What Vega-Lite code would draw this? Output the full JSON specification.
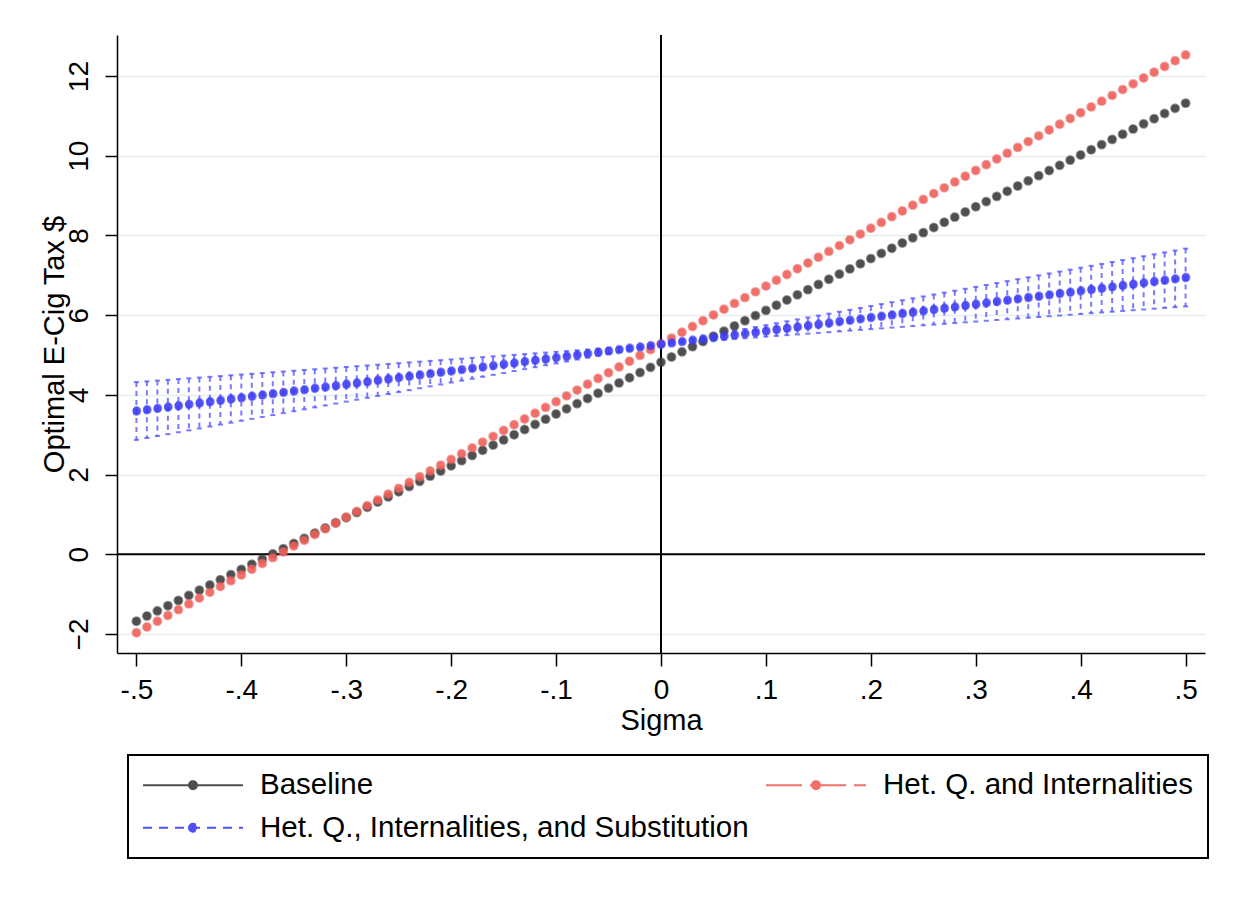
{
  "$schema": "https://vega.github.io/schema/vega-lite/v6.json",
  "width": 1088,
  "height": 618,
  "autosize": {"type": "none"},
  "padding": {"left": 117, "top": 35, "right": 30, "bottom": 246},
  "background": "white",
  "config": {
    "font": "Liberation Sans",
    "view": {"stroke": null},
    "axis": {
      "domainColor": "black",
      "domainWidth": 1.5,
      "tickColor": "black",
      "tickWidth": 1.5,
      "labelColor": "black",
      "titleColor": "black",
      "labelFontSize": 28,
      "titleFontSize": 29,
      "titleFontWeight": "normal"
    },
    "legend": {"strokeWidth": 2}
  },
  "data": {
    "values": [
      {"s": -0.5, "b": -1.68, "h": -1.97, "q": 3.595, "lo": 2.87, "hi": 4.32},
      {"s": -0.49, "b": -1.55, "h": -1.825, "q": 3.629, "lo": 2.918, "hi": 4.339},
      {"s": -0.48, "b": -1.42, "h": -1.68, "q": 3.662, "lo": 2.966, "hi": 4.358},
      {"s": -0.47, "b": -1.29, "h": -1.535, "q": 3.696, "lo": 3.014, "hi": 4.377},
      {"s": -0.46, "b": -1.16, "h": -1.39, "q": 3.729, "lo": 3.062, "hi": 4.396},
      {"s": -0.45, "b": -1.03, "h": -1.245, "q": 3.763, "lo": 3.11, "hi": 4.415},
      {"s": -0.44, "b": -0.9, "h": -1.1, "q": 3.796, "lo": 3.158, "hi": 4.434},
      {"s": -0.43, "b": -0.77, "h": -0.955, "q": 3.83, "lo": 3.206, "hi": 4.453},
      {"s": -0.42, "b": -0.64, "h": -0.81, "q": 3.863, "lo": 3.254, "hi": 4.472},
      {"s": -0.41, "b": -0.51, "h": -0.665, "q": 3.897, "lo": 3.302, "hi": 4.491},
      {"s": -0.4, "b": -0.38, "h": -0.52, "q": 3.93, "lo": 3.35, "hi": 4.51},
      {"s": -0.39, "b": -0.25, "h": -0.375, "q": 3.964, "lo": 3.398, "hi": 4.529},
      {"s": -0.38, "b": -0.12, "h": -0.23, "q": 3.997, "lo": 3.446, "hi": 4.548},
      {"s": -0.37, "b": 0.01, "h": -0.085, "q": 4.031, "lo": 3.494, "hi": 4.567},
      {"s": -0.36, "b": 0.14, "h": 0.06, "q": 4.064, "lo": 3.542, "hi": 4.586},
      {"s": -0.35, "b": 0.27, "h": 0.205, "q": 4.098, "lo": 3.59, "hi": 4.605},
      {"s": -0.34, "b": 0.4, "h": 0.35, "q": 4.131, "lo": 3.638, "hi": 4.624},
      {"s": -0.33, "b": 0.53, "h": 0.495, "q": 4.165, "lo": 3.686, "hi": 4.643},
      {"s": -0.32, "b": 0.66, "h": 0.64, "q": 4.198, "lo": 3.734, "hi": 4.662},
      {"s": -0.31, "b": 0.79, "h": 0.785, "q": 4.232, "lo": 3.782, "hi": 4.681},
      {"s": -0.3, "b": 0.92, "h": 0.93, "q": 4.265, "lo": 3.83, "hi": 4.7},
      {"s": -0.29, "b": 1.05, "h": 1.075, "q": 4.299, "lo": 3.878, "hi": 4.719},
      {"s": -0.28, "b": 1.18, "h": 1.22, "q": 4.332, "lo": 3.926, "hi": 4.738},
      {"s": -0.27, "b": 1.31, "h": 1.365, "q": 4.366, "lo": 3.974, "hi": 4.757},
      {"s": -0.26, "b": 1.44, "h": 1.51, "q": 4.399, "lo": 4.022, "hi": 4.776},
      {"s": -0.25, "b": 1.57, "h": 1.655, "q": 4.433, "lo": 4.07, "hi": 4.795},
      {"s": -0.24, "b": 1.7, "h": 1.8, "q": 4.466, "lo": 4.118, "hi": 4.814},
      {"s": -0.23, "b": 1.83, "h": 1.945, "q": 4.5, "lo": 4.166, "hi": 4.833},
      {"s": -0.22, "b": 1.96, "h": 2.09, "q": 4.533, "lo": 4.214, "hi": 4.852},
      {"s": -0.21, "b": 2.09, "h": 2.235, "q": 4.567, "lo": 4.262, "hi": 4.871},
      {"s": -0.2, "b": 2.22, "h": 2.38, "q": 4.6, "lo": 4.31, "hi": 4.89},
      {"s": -0.19, "b": 2.35, "h": 2.525, "q": 4.634, "lo": 4.358, "hi": 4.909},
      {"s": -0.18, "b": 2.48, "h": 2.67, "q": 4.667, "lo": 4.406, "hi": 4.928},
      {"s": -0.17, "b": 2.61, "h": 2.815, "q": 4.701, "lo": 4.454, "hi": 4.947},
      {"s": -0.16, "b": 2.74, "h": 2.96, "q": 4.734, "lo": 4.502, "hi": 4.966},
      {"s": -0.15, "b": 2.87, "h": 3.105, "q": 4.768, "lo": 4.55, "hi": 4.985},
      {"s": -0.14, "b": 3.0, "h": 3.25, "q": 4.801, "lo": 4.598, "hi": 5.004},
      {"s": -0.13, "b": 3.13, "h": 3.395, "q": 4.835, "lo": 4.646, "hi": 5.023},
      {"s": -0.12, "b": 3.26, "h": 3.54, "q": 4.868, "lo": 4.694, "hi": 5.042},
      {"s": -0.11, "b": 3.39, "h": 3.685, "q": 4.902, "lo": 4.742, "hi": 5.061},
      {"s": -0.1, "b": 3.52, "h": 3.83, "q": 4.935, "lo": 4.79, "hi": 5.08},
      {"s": -0.09, "b": 3.65, "h": 3.975, "q": 4.969, "lo": 4.838, "hi": 5.099},
      {"s": -0.08, "b": 3.78, "h": 4.12, "q": 5.002, "lo": 4.886, "hi": 5.118},
      {"s": -0.07, "b": 3.91, "h": 4.265, "q": 5.036, "lo": 4.934, "hi": 5.137},
      {"s": -0.06, "b": 4.04, "h": 4.41, "q": 5.069, "lo": 4.982, "hi": 5.156},
      {"s": -0.05, "b": 4.17, "h": 4.555, "q": 5.103, "lo": 5.03, "hi": 5.175},
      {"s": -0.04, "b": 4.3, "h": 4.7, "q": 5.136, "lo": 5.078, "hi": 5.194},
      {"s": -0.03, "b": 4.43, "h": 4.845, "q": 5.17, "lo": 5.126, "hi": 5.213},
      {"s": -0.02, "b": 4.56, "h": 4.99, "q": 5.203, "lo": 5.174, "hi": 5.232},
      {"s": -0.01, "b": 4.69, "h": 5.135, "q": 5.237, "lo": 5.222, "hi": 5.251},
      {"s": 0.0, "b": 4.82, "h": 5.28, "q": 5.27, "lo": 5.27, "hi": 5.27},
      {"s": 0.01, "b": 4.95, "h": 5.425, "q": 5.304, "lo": 5.289, "hi": 5.318},
      {"s": 0.02, "b": 5.08, "h": 5.57, "q": 5.337, "lo": 5.308, "hi": 5.366},
      {"s": 0.03, "b": 5.21, "h": 5.715, "q": 5.371, "lo": 5.327, "hi": 5.414},
      {"s": 0.04, "b": 5.34, "h": 5.86, "q": 5.404, "lo": 5.346, "hi": 5.462},
      {"s": 0.05, "b": 5.47, "h": 6.005, "q": 5.438, "lo": 5.365, "hi": 5.51},
      {"s": 0.06, "b": 5.6, "h": 6.15, "q": 5.471, "lo": 5.384, "hi": 5.558},
      {"s": 0.07, "b": 5.73, "h": 6.295, "q": 5.505, "lo": 5.403, "hi": 5.606},
      {"s": 0.08, "b": 5.86, "h": 6.44, "q": 5.538, "lo": 5.422, "hi": 5.654},
      {"s": 0.09, "b": 5.99, "h": 6.585, "q": 5.572, "lo": 5.441, "hi": 5.702},
      {"s": 0.1, "b": 6.12, "h": 6.73, "q": 5.605, "lo": 5.46, "hi": 5.75},
      {"s": 0.11, "b": 6.25, "h": 6.875, "q": 5.639, "lo": 5.479, "hi": 5.798},
      {"s": 0.12, "b": 6.38, "h": 7.02, "q": 5.672, "lo": 5.498, "hi": 5.846},
      {"s": 0.13, "b": 6.51, "h": 7.165, "q": 5.706, "lo": 5.517, "hi": 5.894},
      {"s": 0.14, "b": 6.64, "h": 7.31, "q": 5.739, "lo": 5.536, "hi": 5.942},
      {"s": 0.15, "b": 6.77, "h": 7.455, "q": 5.773, "lo": 5.555, "hi": 5.99},
      {"s": 0.16, "b": 6.9, "h": 7.6, "q": 5.806, "lo": 5.574, "hi": 6.038},
      {"s": 0.17, "b": 7.03, "h": 7.745, "q": 5.84, "lo": 5.593, "hi": 6.086},
      {"s": 0.18, "b": 7.16, "h": 7.89, "q": 5.873, "lo": 5.612, "hi": 6.134},
      {"s": 0.19, "b": 7.29, "h": 8.035, "q": 5.907, "lo": 5.631, "hi": 6.182},
      {"s": 0.2, "b": 7.42, "h": 8.18, "q": 5.94, "lo": 5.65, "hi": 6.23},
      {"s": 0.21, "b": 7.55, "h": 8.325, "q": 5.974, "lo": 5.669, "hi": 6.278},
      {"s": 0.22, "b": 7.68, "h": 8.47, "q": 6.007, "lo": 5.688, "hi": 6.326},
      {"s": 0.23, "b": 7.81, "h": 8.615, "q": 6.041, "lo": 5.707, "hi": 6.374},
      {"s": 0.24, "b": 7.94, "h": 8.76, "q": 6.074, "lo": 5.726, "hi": 6.422},
      {"s": 0.25, "b": 8.07, "h": 8.905, "q": 6.108, "lo": 5.745, "hi": 6.47},
      {"s": 0.26, "b": 8.2, "h": 9.05, "q": 6.141, "lo": 5.764, "hi": 6.518},
      {"s": 0.27, "b": 8.33, "h": 9.195, "q": 6.175, "lo": 5.783, "hi": 6.566},
      {"s": 0.28, "b": 8.46, "h": 9.34, "q": 6.208, "lo": 5.802, "hi": 6.614},
      {"s": 0.29, "b": 8.59, "h": 9.485, "q": 6.242, "lo": 5.821, "hi": 6.662},
      {"s": 0.3, "b": 8.72, "h": 9.63, "q": 6.275, "lo": 5.84, "hi": 6.71},
      {"s": 0.31, "b": 8.85, "h": 9.775, "q": 6.309, "lo": 5.859, "hi": 6.758},
      {"s": 0.32, "b": 8.98, "h": 9.92, "q": 6.342, "lo": 5.878, "hi": 6.806},
      {"s": 0.33, "b": 9.11, "h": 10.065, "q": 6.376, "lo": 5.897, "hi": 6.854},
      {"s": 0.34, "b": 9.24, "h": 10.21, "q": 6.409, "lo": 5.916, "hi": 6.902},
      {"s": 0.35, "b": 9.37, "h": 10.355, "q": 6.443, "lo": 5.935, "hi": 6.95},
      {"s": 0.36, "b": 9.5, "h": 10.5, "q": 6.476, "lo": 5.954, "hi": 6.998},
      {"s": 0.37, "b": 9.63, "h": 10.645, "q": 6.51, "lo": 5.973, "hi": 7.046},
      {"s": 0.38, "b": 9.76, "h": 10.79, "q": 6.543, "lo": 5.992, "hi": 7.094},
      {"s": 0.39, "b": 9.89, "h": 10.935, "q": 6.577, "lo": 6.011, "hi": 7.142},
      {"s": 0.4, "b": 10.02, "h": 11.08, "q": 6.61, "lo": 6.03, "hi": 7.19},
      {"s": 0.41, "b": 10.15, "h": 11.225, "q": 6.644, "lo": 6.049, "hi": 7.238},
      {"s": 0.42, "b": 10.28, "h": 11.37, "q": 6.677, "lo": 6.068, "hi": 7.286},
      {"s": 0.43, "b": 10.41, "h": 11.515, "q": 6.711, "lo": 6.087, "hi": 7.334},
      {"s": 0.44, "b": 10.54, "h": 11.66, "q": 6.744, "lo": 6.106, "hi": 7.382},
      {"s": 0.45, "b": 10.67, "h": 11.805, "q": 6.778, "lo": 6.125, "hi": 7.43},
      {"s": 0.46, "b": 10.8, "h": 11.95, "q": 6.811, "lo": 6.144, "hi": 7.478},
      {"s": 0.47, "b": 10.93, "h": 12.095, "q": 6.845, "lo": 6.163, "hi": 7.526},
      {"s": 0.48, "b": 11.06, "h": 12.24, "q": 6.878, "lo": 6.182, "hi": 7.574},
      {"s": 0.49, "b": 11.19, "h": 12.385, "q": 6.912, "lo": 6.201, "hi": 7.622},
      {"s": 0.5, "b": 11.32, "h": 12.53, "q": 6.945, "lo": 6.22, "hi": 7.67}
    ]
  },
  "layer": [
    {
      "data": {"values": [{"s": 0}]},
      "mark": {"type": "rule", "color": "black", "strokeWidth": 2},
      "encoding": {
        "x": {"field": "s", "type": "quantitative", "title": "Sigma", "scale": {"domain": [-0.5185, 0.5185], "nice": false, "zero": false}}
      }
    },
    {
      "data": {"values": [{"val": 0}]},
      "mark": {"type": "rule", "color": "black", "strokeWidth": 2},
      "encoding": {
        "y": {"field": "val", "type": "quantitative", "title": "Optimal E-Cig Tax $", "scale": {"domain": [-2.477, 13.03], "nice": false, "zero": false}}
      }
    },
    {
      "mark": {"type": "rule", "color": "#4d4dff", "opacity": 0.75, "strokeWidth": 2, "strokeDash": [5, 4]},
      "encoding": {
        "x": {"field": "s", "type": "quantitative", "title": "Sigma"},
        "y": {"field": "hi", "type": "quantitative", "title": "Optimal E-Cig Tax $"},
        "y2": {"field": "lo"}
      }
    },
    {
      "mark": {"type": "tick", "orient": "horizontal", "color": "#4d4dff", "opacity": 0.75, "size": 5, "thickness": 2},
      "encoding": {
        "x": {"field": "s", "type": "quantitative", "title": "Sigma"},
        "y": {"field": "hi", "type": "quantitative", "title": "Optimal E-Cig Tax $"}
      }
    },
    {
      "mark": {"type": "tick", "orient": "horizontal", "color": "#4d4dff", "opacity": 0.75, "size": 5, "thickness": 2},
      "encoding": {
        "x": {"field": "s", "type": "quantitative", "title": "Sigma"},
        "y": {"field": "lo", "type": "quantitative", "title": "Optimal E-Cig Tax $"}
      }
    },
    {
      "transform": [{"fold": ["b", "h", "q"], "as": ["series", "val"]}],
      "mark": {"type": "circle", "size": 62, "opacity": 0.9, "strokeWidth": 2, "strokeOpacity": 0.6},
      "encoding": {
        "x": {
          "field": "s", "type": "quantitative", "title": "Sigma",
          "scale": {"domain": [-0.5185, 0.5185], "nice": false, "zero": false},
          "axis": {
            "values": [-0.5, -0.4, -0.3, -0.2, -0.1, 0, 0.1, 0.2, 0.3, 0.4, 0.5],
            "labelExpr": "datum.value < -0.001 ? '-.' + round(-datum.value * 10) : (datum.value > 0.001 ? '.' + round(datum.value * 10) : '0')",
            "grid": false,
            "tickSize": 13,
            "labelPadding": 10,
            "labelFontSize": 28,
            "labelFlush": false,
            "labelOverlap": false,
            "titleY": 76,
            "titleBaseline": "alphabetic"
          }
        },
        "y": {
          "field": "val", "type": "quantitative", "title": "Optimal E-Cig Tax $",
          "scale": {"domain": [-2.477, 13.03], "nice": false, "zero": false},
          "axis": {
            "values": [-2, 0, 2, 4, 6, 8, 10, 12],
            "grid": true,
            "gridColor": "#e6eef0",
            "gridWidth": 1.5,
            "tickSize": 12,
            "labelFontSize": 28,
            "labelAngle": 270,
            "labelAlign": "center",
            "labelBaseline": "alphabetic",
            "labelPadding": 18,
            "labelFlush": false,
            "labelOverlap": false,
            "titleAngle": 270,
            "titleX": -54,
            "titleY": 309,
            "titleAlign": "center",
            "titleBaseline": "alphabetic"
          }
        },
        "fill": {
          "field": "series", "type": "nominal",
          "scale": {"domain": ["b", "h", "q"], "range": ["#3c3c3c", "#f0605a", "#3d3df5"]},
          "legend": {
            "title": null,
            "orient": "none",
            "direction": "horizontal",
            "legendX": 11,
            "legendY": 720,
            "columns": 2,
            "columnPadding": 13,
            "rowPadding": 12,
            "padding": 15,
            "strokeColor": "black",
            "labelFontSize": 29.5,
            "labelColor": "black",
            "labelOffset": 87.5,
            "labelLimit": 1000,
            "symbolType": "M-14.75,0H85.25M31.25,0A4,4 0 1,1 39.25,0A4,4 0 1,1 31.25,0Z",
            "symbolSize": 4,
            "symbolStrokeWidth": 2,
            "labelExpr": "datum.value === 'b' ? 'Baseline' : (datum.value === 'h' ? 'Het. Q. and Internalities' : 'Het. Q., Internalities, and Substitution')"
          }
        },
        "stroke": {
          "field": "series", "type": "nominal",
          "scale": {"domain": ["b", "h", "q"], "range": ["#3c3c3c", "#f0605a", "#3d3df5"]},
          "legend": {
            "title": null,
            "orient": "none",
            "direction": "horizontal",
            "legendX": 11,
            "legendY": 720,
            "columns": 2,
            "columnPadding": 13,
            "rowPadding": 12,
            "padding": 15,
            "strokeColor": "black",
            "labelFontSize": 29.5,
            "labelColor": "black",
            "labelOffset": 87.5,
            "labelLimit": 1000,
            "symbolType": "M-14.75,0H85.25M31.25,0A4,4 0 1,1 39.25,0A4,4 0 1,1 31.25,0Z",
            "symbolSize": 4,
            "symbolStrokeWidth": 2,
            "labelExpr": "datum.value === 'b' ? 'Baseline' : (datum.value === 'h' ? 'Het. Q. and Internalities' : 'Het. Q., Internalities, and Substitution')"
          }
        },
        "strokeDash": {
          "field": "series", "type": "nominal",
          "scale": {"domain": ["b", "h", "q"], "range": [[1, 0], [36, 8], [9, 7]]},
          "legend": {
            "title": null,
            "orient": "none",
            "direction": "horizontal",
            "legendX": 11,
            "legendY": 720,
            "columns": 2,
            "columnPadding": 13,
            "rowPadding": 12,
            "padding": 15,
            "strokeColor": "black",
            "labelFontSize": 29.5,
            "labelColor": "black",
            "labelOffset": 87.5,
            "labelLimit": 1000,
            "symbolType": "M-14.75,0H85.25M31.25,0A4,4 0 1,1 39.25,0A4,4 0 1,1 31.25,0Z",
            "symbolSize": 4,
            "symbolStrokeWidth": 2,
            "labelExpr": "datum.value === 'b' ? 'Baseline' : (datum.value === 'h' ? 'Het. Q. and Internalities' : 'Het. Q., Internalities, and Substitution')"
          }
        }
      }
    }
  ]
}
